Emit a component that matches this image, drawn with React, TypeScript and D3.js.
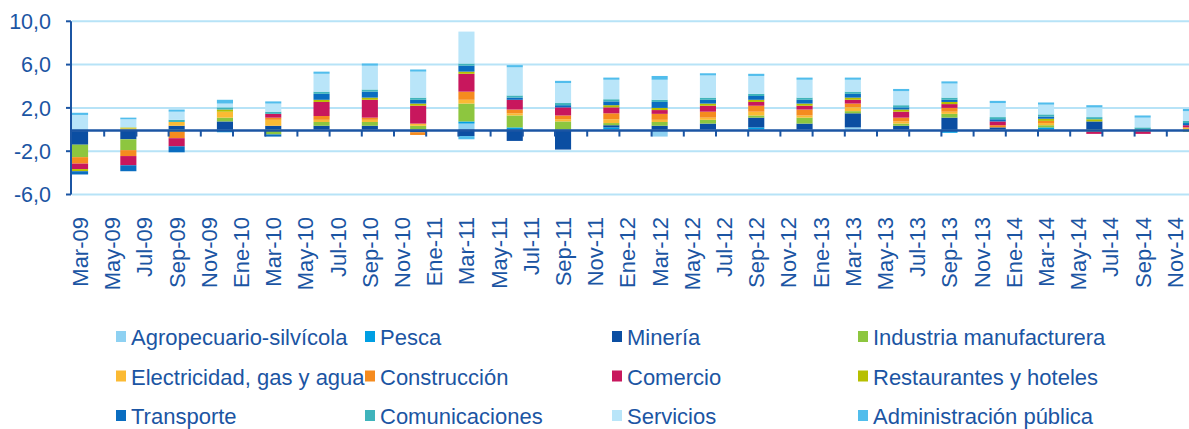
import React from 'react';
import * as d3 from 'd3';

// month axis: Mar-09 .. Dic-14 (bars only on quarter months)
const monthNames = ['Ene', 'Feb', 'Mar', 'Abr', 'May', 'Jun', 'Jul', 'Ago', 'Sep', 'Oct', 'Nov', 'Dic'];
const months: string[] = [];
for (let yr = 9; yr <= 14; yr++) {
  monthNames.forEach((m, i) => {
    if (yr === 9 && i < 2) return;
    months.push(m + '-' + String(yr).padStart(2, '0'));
  });
}

const quarters = [
  'Mar-09', 'Jun-09', 'Sep-09', 'Dic-09', 'Mar-10', 'Jun-10', 'Sep-10', 'Dic-10',
  'Mar-11', 'Jun-11', 'Sep-11', 'Dic-11', 'Mar-12', 'Jun-12', 'Sep-12', 'Dic-12',
  'Mar-13', 'Jun-13', 'Sep-13', 'Dic-13', 'Mar-14', 'Jun-14', 'Sep-14', 'Dic-14'
];

const agro = [0, 0, 0, 0, 0, 0, 0, 0, 0.55, 0, 0, 0, -0.65, 0, 0, 0, 0.2, 0, 0, 0, 0, 0, 0, 0];
const pesca = [-0.15, -0.05, 0, -0.25, 0, 0, 0, 0, 0.2, 0.2, 0, 0.2, 0, 0, 0.2, 0, 0, 0, -0.3, 0, 0.2, 0, 0, 0];
const mineria = [-1.25, -0.85, 0.35, 0.75, 0.35, 0.35, 0.35, -0.25, -0.6, -1.05, -1.85, 0.2, 0.35, 0.55, 0.9, 0.55, 1.3, 0.35, 1.1, 0.2, 0, 0.75, 0, 0];
const industria = [-1.15, -1.0, -0.2, 0.35, -0.45, 0.35, 0.35, 0.35, 1.65, 1.1, 0.75, 0.2, 0.35, 0.35, 0.2, 0.55, 0.2, 0.2, 0.35, 0, 0.2, -0.2, 0, -0.2];
const electricidad = [0, 0.1, 0.35, 0.55, 0.55, 0.2, 0.2, 0.2, 0.35, 0.2, 0.2, 0.35, 0.2, 0.2, 0.35, 0.2, 0.35, 0.2, 0.2, 0, 0.2, 0, 0, 0.2];
const construccion = [-0.6, -0.55, -0.6, 0, 0.2, 0.35, 0.2, -0.25, 0.75, 0.35, 0.35, 0.55, 0.55, 0.55, 0.55, 0.55, 0.35, 0.35, 0.35, 0.2, 0.2, 0, -0.2, 0];
const comercio = [-0.5, -0.85, -0.75, 0, 0.35, 1.3, 1.65, 1.65, 1.65, 0.9, 0.75, 0.55, 0.35, 0.55, 0.35, 0.35, 0.35, 0.55, 0.35, 0.35, 0, -0.2, -0.2, 0.2];
const restaurantes = [-0.2, 0.1, 0, 0.2, 0, 0.2, 0.2, 0.2, 0.2, 0, 0, 0.2, 0.2, 0.2, 0.2, 0.2, 0.2, 0.2, 0.2, 0, 0.2, 0.2, 0, 0];
const transporte = [-0.3, -0.55, -0.55, 0, -0.2, 0.55, 0.55, 0.35, 0.55, 0.2, 0.2, 0.35, 0.55, 0.35, 0.35, 0.35, 0.35, 0.2, 0.2, 0.2, 0.2, 0, 0, 0.2];
const comunicaciones = [0, 0, 0.2, 0.2, 0.2, 0.2, 0.2, 0.2, 0.2, 0.2, 0.2, 0.2, 0.2, 0.2, 0.2, 0.2, 0.2, 0.2, 0.2, 0.2, 0.2, 0.2, 0.2, 0.2];
const servicios = [1.35, 0.75, 0.75, 0.35, 0.75, 1.65, 2.2, 2.4, 2.95, 2.6, 1.85, 1.8, 1.85, 2.05, 1.65, 1.65, 1.1, 1.3, 1.3, 1.3, 0.9, 0.9, 0.9, 0.9];
const admin = [0.2, 0.15, 0.2, 0.35, 0.2, 0.2, 0.2, 0.2, -0.3, 0.2, 0.2, 0.2, 0.35, 0.2, 0.2, 0.2, 0.2, 0.2, 0.2, 0.2, 0.2, 0.2, 0.2, 0.2];

const sectors = [
  'Agropecuario-silvícola', 'Pesca', 'Minería', 'Industria manufacturera',
  'Electricidad, gas y agua', 'Construcción', 'Comercio', 'Restaurantes y hoteles',
  'Transporte', 'Comunicaciones', 'Servicios', 'Administración pública'
];
const seriesValues = [agro, pesca, mineria, industria, electricidad, construccion, comercio, restaurantes, transporte, comunicaciones, servicios, admin];
const colors = [
  '#8ED1F2', '#009FE3', '#0B4EA2', '#8DC63F', '#FBBA33', '#F58B1F',
  '#C8175D', '#B6BF00', '#0A6DC0', '#3FB4BC', '#B9E5F9', '#51BDEC'
];
const yTicks = [-6, -2, 2, 6, 10];

const W = 1189;
const H = 429;
const TXT = '#1B55A3';
const FONT = '"Liberation Sans", Arial, sans-serif';

export default function App() {
  const x0 = 72;
  const bw = 16.1;
  const x = d3.scaleBand<string>().domain(months).range([x0, x0 + months.length * bw]).padding(0);
  const y = d3.scaleLinear().domain([-6, 10]).range([194.5, 21.3]);

  const rows = quarters.map((q, i) => {
    const r: any = { q };
    sectors.forEach((s, j) => { r[s] = seriesValues[j][i]; });
    return r;
  });
  const stacked = d3.stack<any>().keys(sectors).offset(d3.stackOffsetDiverging)(rows);

  const fmt = (v: number) => d3.format('.1f')(v).replace('.', ',').replace('−', '-');
  const labelMonths = months.filter((_, i) => i % 2 === 0 && i < months.length - 1);
  const tickPos = d3.range(2, months.length, 2).map(k => x0 + k * bw);

  const legendCols = [116, 365, 612, 858];
  const legendRows = [345, 384.5, 424];

  return (
    <svg width={W} height={H} style={{ position: 'absolute', left: 0, top: 0, background: '#fff' }} fontFamily={FONT}>
      {yTicks.map(t => (
        <line key={'g' + t} x1={x0} x2={W} y1={y(t)} y2={y(t)} stroke="#B7E3F7" strokeWidth={2} />
      ))}
      {stacked.map((layer, j) => (
        <g key={layer.key} fill={colors[j]}>
          {layer.map((d, i) => {
            const top = Math.min(y(d[0]), y(d[1]));
            const h = Math.abs(y(d[0]) - y(d[1]));
            if (h < 0.01) return null;
            return <rect key={i} x={x(quarters[i])} y={top} width={x.bandwidth()} height={h} />;
          })}
        </g>
      ))}
      {/* y axis */}
      <line x1={71} x2={71} y1={y(10)} y2={y(-6)} stroke={TXT} strokeWidth={2} />
      {yTicks.map(t => (
        <g key={'t' + t}>
          <line x1={66} x2={71} y1={y(t)} y2={y(t)} stroke={TXT} strokeWidth={2} />
          <text x={51} y={y(t)} dy="0.36em" textAnchor="end" fontSize={21.5} fill={TXT}>{fmt(t)}</text>
        </g>
      ))}
      {/* category axis at zero */}
      <line x1={70} x2={W} y1={y(0) + 1} y2={y(0) + 1} stroke={TXT} strokeWidth={2.5} />
      {tickPos.map(p => (
        <line key={'x' + p} x1={p} x2={p} y1={y(0) + 1} y2={y(0) + 7} stroke={TXT} strokeWidth={2} />
      ))}
      {labelMonths.map(m => {
        const cx = (x(m) as number) + bw / 2;
        return (
          <text key={m} transform={`translate(${cx},217) rotate(-90)`} dy="0.36em" textAnchor="end" fontSize={22} fill={TXT}>{m}</text>
        );
      })}
      {/* legend */}
      {sectors.map((s, j) => {
        const lx = legendCols[j % 4];
        const ly = legendRows[Math.floor(j / 4)];
        return (
          <g key={'l' + s}>
            <rect x={lx} y={ly - 14} width={10} height={11} fill={colors[j]} />
            <text x={lx + 15} y={ly} fontSize={22} fill={TXT}>{s}</text>
          </g>
        );
      })}
    </svg>
  );
}
